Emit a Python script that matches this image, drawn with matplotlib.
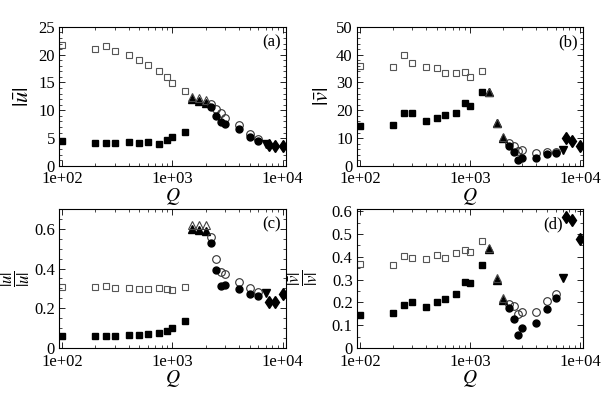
import numpy as np
import matplotlib
matplotlib.use("Agg")
import matplotlib.pyplot as plt
from matplotlib.ticker import FuncFormatter, AutoMinorLocator, LogLocator, NullFormatter

plt.rcParams['font.family'] = ['Liberation Serif', 'DejaVu Serif']
plt.rcParams['mathtext.fontset'] = 'stix'

# Q values for each marker group
Q_sq = [100, 200, 250, 300, 400, 500, 600, 750, 900, 1000, 1300]
Q_tri = [1500, 1750, 2000]
Q_circ = [2250, 2500, 2750, 3000, 4000, 5000, 6000]
Q_down = [7000]
Q_dia = [7500, 8500, 10000]

# panel (a) |u bar|
a_sq_open = [21.8, 21.1, 21.5, 20.7, 19.9, 19.1, 18.2, 17.1, 16.0, 14.9, 13.4]
a_sq_fill = [4.4, 4.2, 4.2, 4.1, 4.3, 4.1, 4.3, 3.9, 4.6, 5.2, 6.1]
a_tri_open = [12.3, 12.2, 11.9]
a_tri_fill = [12.0, 11.7, 11.3]
a_circ_open = [11.2, 10.2, 9.5, 8.7, 7.3, 5.8, 4.9]
a_circ_fill = [10.6, 9.0, 7.9, 7.5, 6.6, 5.2, 4.5]
a_down = [4.0]
a_dia = [3.8, 3.5, 3.5]

# panel (b) |v bar|
b_sq_open = [36.1, 35.4, 39.9, 37.1, 35.5, 35.2, 33.4, 33.4, 33.6, 31.9, 34.1]
b_sq_fill = [14.2, 14.8, 18.9, 19.2, 16.3, 17.3, 18.3, 19.0, 22.5, 21.6, 26.7]
b_tri_open = [26.6, 15.6, 10.3]
b_tri_fill = [26.5, 15.3, 10.0]
b_circ_open = [8.3, 7.2, 5.4, 5.7, 4.7, 5.1, 5.1]
b_circ_fill = [7.2, 5.1, 2.0, 3.0, 3.0, 4.2, 4.7]
b_down = [5.7]
b_dia = [10.2, 9.0, 7.2]

# panel (c) |u bar| / |u|
c_sq_open = [0.305, 0.305, 0.31, 0.302, 0.300, 0.298, 0.297, 0.300, 0.296, 0.293, 0.305]
c_sq_fill = [0.062, 0.062, 0.062, 0.062, 0.067, 0.067, 0.072, 0.073, 0.087, 0.1, 0.137]
c_tri_open = [0.617, 0.617, 0.617]
c_tri_fill = [0.600, 0.592, 0.590]
c_circ_open = [0.56, 0.447, 0.385, 0.373, 0.333, 0.302, 0.28]
c_circ_fill = [0.53, 0.393, 0.31, 0.315, 0.297, 0.273, 0.26]
c_down = [0.275]
c_dia = [0.233, 0.233, 0.273]

# panel (d) |v bar| / |v|
d_sq_open = [0.37, 0.365, 0.405, 0.395, 0.39, 0.41, 0.395, 0.415, 0.43, 0.42, 0.47]
d_sq_fill = [0.145, 0.152, 0.19, 0.2, 0.178, 0.2, 0.215, 0.235, 0.29, 0.285, 0.365]
d_tri_open = [0.44, 0.305, 0.22]
d_tri_fill = [0.435, 0.3, 0.21]
d_circ_open = [0.195, 0.185, 0.15, 0.16, 0.16, 0.205, 0.235]
d_circ_fill = [0.175, 0.128, 0.055, 0.088, 0.108, 0.17, 0.22]
d_down = [0.305]
d_dia = [0.575, 0.56, 0.48]

panels = [
    ("(a)", 0.975, r"$|\bar{u}|$", 16, -0.115, (0, 25), 5, 5,
     a_sq_open, a_sq_fill, a_tri_open, a_tri_fill, a_circ_open, a_circ_fill, a_down, a_dia),
    ("(b)", 0.975, r"$|\bar{v}|$", 16, -0.105, (0, 50), 10, 5,
     b_sq_open, b_sq_fill, b_tri_open, b_tri_fill, b_circ_open, b_circ_fill, b_down, b_dia),
    ("(c)", 0.975, r"$\dfrac{|\bar{u}|}{|u|}$", 12, -0.12, (0, 0.7), 0.2, 4,
     c_sq_open, c_sq_fill, c_tri_open, c_tri_fill, c_circ_open, c_circ_fill, c_down, c_dia),
    ("(d)", 0.91, r"$\dfrac{|\bar{v}|}{|v|}$", 12, -0.165, (0, 0.61), 0.1, 2,
     d_sq_open, d_sq_fill, d_tri_open, d_tri_fill, d_circ_open, d_circ_fill, d_down, d_dia),
]

# axes boxes in figure fractions [left, bottom, width, height]
boxes = [
    [0.097, 0.580, 0.372, 0.352],
    [0.585, 0.580, 0.371, 0.352],
    [0.097, 0.119, 0.372, 0.352],
    [0.585, 0.119, 0.371, 0.352],
]

fig = plt.figure(figsize=(6.1, 3.95), dpi=100)

for box, p in zip(boxes, panels):
    (tag, tagx, ylab, ysize, ylx, ylim, ystep, nminor,
     sq_o, sq_f, tri_o, tri_f, ci_o, ci_f, dn, dia) = p
    ax = fig.add_axes(box)

    ax.plot(Q_sq, sq_f, 's', color='black', ms=4.0, ls='none')
    ax.plot(Q_sq, sq_o, 's', mfc='none', mec='#555555', mew=0.8, ms=4.4, ls='none')
    ax.plot(Q_tri, tri_f, '^', color='black', ms=6, ls='none')
    ax.plot(Q_tri, tri_o, '^', mfc='none', mec='#444444', mew=0.8, ms=6, ls='none')
    ax.plot(Q_circ, ci_o, 'o', mfc='none', mec='#333333', mew=0.8, ms=5.5, ls='none')
    ax.plot(Q_circ, ci_f, 'o', color='black', ms=5, ls='none')
    ax.plot(Q_down, dn, 'v', color='black', ms=6, ls='none')
    ax.plot(Q_dia, dia, 'd', color='black', ms=6.5, ls='none')

    ax.set_xscale('log')
    ax.set_xlim(94, 10700)
    ax.set_ylim(*ylim)
    ax.set_yticks(np.arange(0, ylim[1] + 1e-9, ystep))
    ax.yaxis.set_minor_locator(AutoMinorLocator(nminor))
    ax.xaxis.set_major_locator(LogLocator(base=10, numticks=5))
    ax.xaxis.set_minor_locator(LogLocator(base=10, subs=np.arange(2, 10), numticks=20))
    ax.xaxis.set_minor_formatter(NullFormatter())
    ax.xaxis.set_major_formatter(FuncFormatter(lambda v, pos: '%.0e' % v))
    ax.yaxis.set_major_formatter(FuncFormatter(lambda v, pos: ('%g' % round(v, 3))))

    ax.tick_params(which='both', direction='in', top=True, right=True, labelsize=12)
    ax.tick_params(which='major', length=4, width=0.6)
    ax.tick_params(which='minor', length=2, width=0.5)
    ax.tick_params(axis='x', pad=4)
    ax.tick_params(axis='y', pad=3)

    ax.set_xlabel(r'$Q$', fontsize=14, labelpad=-1)
    ax.set_ylabel(ylab, fontsize=ysize)
    ax.yaxis.set_label_coords(ylx, 0.5)
    ax.text(tagx, 0.89, tag, transform=ax.transAxes, ha='right', va='center', fontsize=12)

fig.savefig('out.png', dpi=100)
